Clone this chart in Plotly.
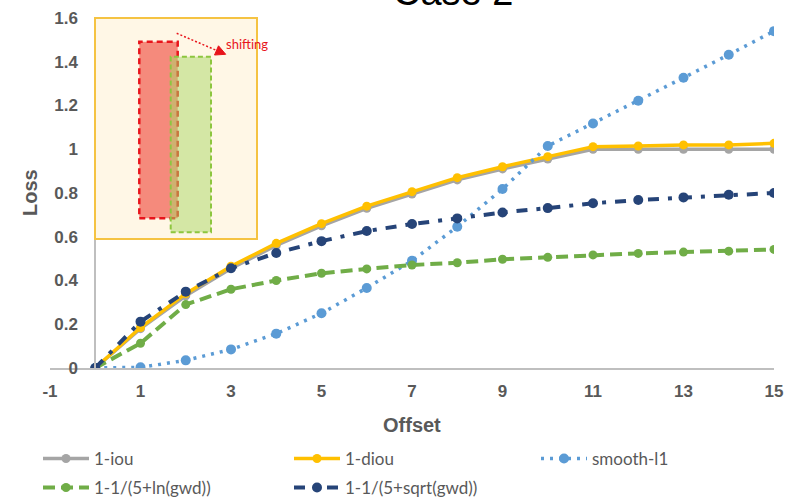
import plotly.graph_objects as go

offset = list(range(0, 16))
iou = [0, 0.18, 0.33, 0.455, 0.56, 0.65, 0.73, 0.795, 0.86, 0.91, 0.955, 1.0, 1.0, 1.0, 1.0, 1.0]
diou = [0, 0.185, 0.34, 0.465, 0.57, 0.66, 0.74, 0.806, 0.87, 0.92, 0.966, 1.012, 1.015, 1.02, 1.02, 1.027]
smooth_l1 = [0, 0.003, 0.035, 0.085, 0.157, 0.25, 0.366, 0.49, 0.646, 0.818, 1.015, 1.118, 1.222, 1.327, 1.432, 1.54]
ln_gwd = [0, 0.113, 0.29, 0.36, 0.40, 0.433, 0.453, 0.471, 0.481, 0.497, 0.506, 0.517, 0.524, 0.53, 0.534, 0.542]
sqrt_gwd = [0, 0.212, 0.349, 0.456, 0.526, 0.58, 0.626, 0.658, 0.684, 0.711, 0.731, 0.753, 0.768, 0.78, 0.792, 0.80]

x_ticks = [-1, 1, 3, 5, 7, 9, 11, 13, 15]
y_ticks = [0, 0.2, 0.4, 0.6, 0.8, 1.0, 1.2, 1.4, 1.6]

W, H = 787, 502
L, R, T, B = 50, 13, 18, 134
PW, PH = W - L - R, H - T - B


def px(xp):
    return (xp - L) / PW


def py(yp):
    return (H - B - yp) / PH


fig = go.Figure()
series = [
    ("1-iou", iou, "#A5A5A5", "solid", 3.5, 9, "legend"),
    ("1-diou", diou, "#FFC000", "solid", 3.5, 9, "legend"),
    ("smooth-l1", smooth_l1, "#5B9BD5", "3px,6px", 3.5, 10, "legend3"),
    ("1-1/(5+ln(gwd))", ln_gwd, "#70AD47", "12px,6px", 4, 9, "legend2"),
    ("1-1/(5+sqrt(gwd))", sqrt_gwd, "#264478", "11px,9px,4px,9px", 4, 10, "legend2"),
]
for name, vals, col, dash, lw, ms, lg in series:
    fig.add_trace(go.Scatter(
        x=offset, y=vals, name=name, mode="lines+markers",
        line=dict(color=col, width=lw, dash=dash),
        marker=dict(color=col, size=ms, symbol="circle"),
        legend=lg,
    ))

tick_font = dict(family="Liberation Sans", size=17, color="#595959", weight="bold")
leg_font = dict(family="Lato", size=17, color="#595959")

fig.update_layout(
    width=W, height=H,
    margin=dict(l=L, r=R, t=T, b=B, autoexpand=False),
    paper_bgcolor="white", plot_bgcolor="white",
    font=dict(family="Liberation Sans", color="#595959"),
    xaxis=dict(
        range=[-1, 15], tickvals=x_ticks, ticktext=[str(v) for v in x_ticks],
        showgrid=False, zeroline=False, showline=True, linecolor="#BFBFBF", linewidth=1.5,
        ticks="outside", ticklen=7, tickcolor="rgba(0,0,0,0)",
        tickfont=tick_font, domain=[0, 1],
    ),
    yaxis=dict(
        range=[0, 1.6], tickvals=y_ticks, ticktext=["0", "0.2", "0.4", "0.6", "0.8", "1", "1.2", "1.4", "1.6"],
        showgrid=False, zeroline=False, showline=True, linecolor="#BFBFBF", linewidth=1.5,
        ticks="outside", ticklen=13, tickcolor="rgba(0,0,0,0)",
        tickfont=tick_font, anchor="free", position=px(95),
    ),
    legend=dict(
        orientation="h", x=px(38), xanchor="left", y=py(441), yanchor="top",
        font=leg_font, itemwidth=46, entrywidth=190, bgcolor="rgba(0,0,0,0)",
    ),
    legend3=dict(
        orientation="h", x=px(536), xanchor="left", y=py(441), yanchor="top",
        font=leg_font, itemwidth=46, bgcolor="rgba(0,0,0,0)",
    ),
    legend2=dict(
        orientation="h", x=px(38), xanchor="left", y=py(470), yanchor="top",
        font=leg_font, itemwidth=46, entrywidth=190, bgcolor="rgba(0,0,0,0)",
    ),
    showlegend=True,
)

# axis titles and chart title
fig.add_annotation(text="<b>Offset</b>", x=px(412), y=py(425), xref="paper", yref="paper",
                   xanchor="center", yanchor="middle",
                   showarrow=False, font=dict(family="Liberation Sans", size=20, color="#595959"))
fig.add_annotation(text="<b>Loss</b>", x=px(30), y=py(193), xref="paper", yref="paper",
                   xanchor="center", yanchor="middle",
                   showarrow=False, textangle=-90, font=dict(family="Liberation Sans", size=20, color="#595959"))
fig.add_annotation(text="Case 2", x=px(453), y=py(15), xref="paper", yref="paper",
                   xanchor="center", yanchor="bottom", showarrow=False,
                   font=dict(family="Liberation Sans", size=38, color="#000000"))

# inset illustration
shapes = []
shapes.append(dict(type="rect", xref="paper", yref="paper", x0=px(95), x1=px(257), y0=py(239), y1=py(18),
                   fillcolor="#FFF7E6", line=dict(color="#F5C342", width=2), layer="above"))
shapes.append(dict(type="rect", xref="paper", yref="paper", x0=px(139.3), x1=px(177.7), y0=py(218.3), y1=py(41.7),
                   fillcolor="#F58A7C", line=dict(color="#E8141B", width=2.5, dash="6px,4px"), layer="above"))
shapes.append(dict(type="rect", xref="paper", yref="paper", x0=px(170.7), x1=px(211), y0=py(232.3), y1=py(56.7),
                   fillcolor="rgba(170,215,100,0.5)", line=dict(color="#8DC63F", width=2, dash="5px,3px"), layer="above"))
# arrow
shapes.append(dict(type="line", xref="paper", yref="paper", x0=px(176.7), y0=py(33.3), x1=px(216.5), y1=py(50.4),
                   line=dict(color="#E8141B", width=1.5, dash="2px,2px"), layer="above"))
tri = "M {} {} L {} {} L {} {} Z".format(px(225.7), py(54.3), px(214.5), py(55.0), px(218.5), py(45.8))
shapes.append(dict(type="path", xref="paper", yref="paper", path=tri, fillcolor="#E8141B",
                   line=dict(color="#E8141B", width=1), layer="above"))
fig.update_layout(shapes=shapes)
fig.add_annotation(text="shifting", x=px(224), y=py(34), xref="paper", yref="paper", showarrow=False,
                   font=dict(family="Lato", size=13, color="#E8141B"))

fig.write_html("out.html")
